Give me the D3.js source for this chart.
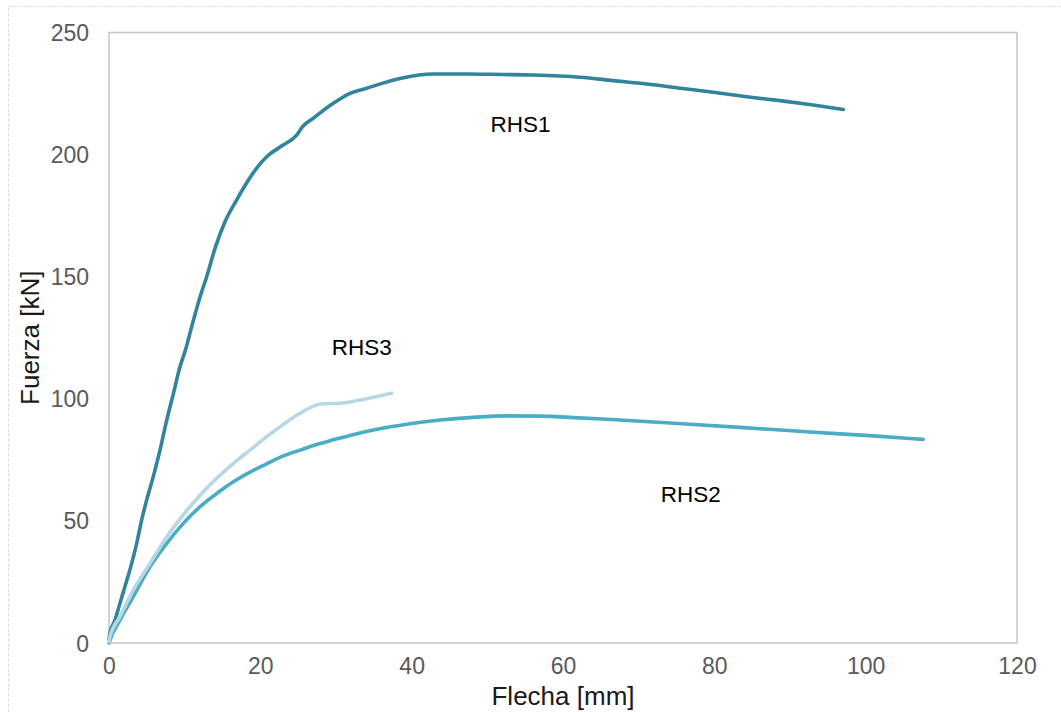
<!DOCTYPE html>
<html>
<head>
<meta charset="utf-8">
<script src="https://cdn.jsdelivr.net/npm/d3@7"></script>
<style>
  html, body { margin: 0; padding: 0; background: #ffffff; }
  svg { display: block; }
  text { font-family: "Liberation Sans", Arial, sans-serif; }
</style>
</head>
<body>
<svg id="chart" width="1061" height="712"></svg>
<script>
// Load–deflection curves [deflection mm, force kN]
const rhs1 = [
  [0, 1.5], [0.13, 4], [0.79, 9.4], [1.45, 16.3], [2.11, 23.1], [3.0, 32.6],
  [3.66, 40.8], [4.32, 50.4], [4.98, 58.6], [5.85, 68.1], [6.74, 79.0],
  [7.63, 91.3], [8.5, 102], [9.38, 113.1], [10.2, 121], [10.7, 126.9],
  [12.03, 141.7], [12.91, 150], [14.0, 161.5], [15.33, 172.5], [16.88, 181.5],
  [18.2, 188.5], [19.52, 194.5], [20.84, 199.1], [22.8, 203.5], [24.8, 208],
  [25.6, 211.5], [27.0, 214.9], [29.64, 221.0], [31.85, 225.1], [34.06, 227.2],
  [38.46, 231.2], [42.86, 233.0], [47.27, 233.0], [52.0, 232.8], [56.07, 232.6],
  [62.25, 231.7], [66.65, 230.3], [71.06, 228.9], [75.46, 227.2], [79.86, 225.5],
  [84.28, 223.7], [88.67, 222.1], [93.08, 220.3], [97.04, 218.5]
];
const rhs2 = [
  [0, 0], [0.13, 1.2], [1.45, 9.4], [3.21, 19.0], [5.42, 31.2], [7.63, 40.8],
  [9.82, 49.0], [12.03, 55.8], [14.23, 61.2], [16.43, 66.0], [18.63, 70.0],
  [20.84, 73.4], [23.04, 76.6], [25.24, 79.0], [27.45, 81.3], [29.64, 83.2],
  [31.85, 85.0], [34.93, 87.2], [39.34, 89.6], [43.74, 91.3], [48.14, 92.4],
  [52.56, 93.0], [56.96, 92.9], [61.4, 92.3], [65.77, 91.6], [74.58, 90.0],
  [83.39, 88.3], [92.2, 86.5], [101.0, 84.8], [107.6, 83.4]
];
const rhs3 = [
  [0, 0.5], [0.13, 2.6], [1.45, 10.8], [3.21, 21.7], [5.42, 32.6], [7.63, 43.5],
  [9.82, 52.5], [12.03, 60.5], [14.23, 67.5], [16.43, 73.5], [18.63, 79.0],
  [20.84, 84.5], [23.04, 89.5], [25.24, 94.1], [27.2, 97.2], [27.89, 97.9],
  [30.53, 98.2], [33.17, 99.5], [35.5, 101.0], [37.36, 102.3]
];

const seriesNames = ["RHS1", "RHS2", "RHS3"];
const seriesData = [rhs1, rhs2, rhs3];
const seriesColors = ["#31849b", "#4bacc6", "#b7d7e4"];

// Curve name annotations, placed in data units [deflection, force]
const labelNames = ["RHS1", "RHS3", "RHS2"];
const labelAt = [[54.4, 212.5], [33.4, 121.2], [76.9, 61.0]];

const xTicks = [0, 20, 40, 60, 80, 100, 120];
const yTicks = [0, 50, 100, 150, 200, 250];
const xTitle = "Flecha [mm]";
const yTitle = "Fuerza [kN]";

const svg = d3.select("#chart");
const plot = { left: 109, right: 1017, top: 32.5, bottom: 643 };

const x = d3.scaleLinear().domain([0, 120]).range([plot.left, plot.right]);
const y = d3.scaleLinear().domain([0, 250]).range([plot.bottom, plot.top]);

// Outer chart frame
svg.append("rect")
  .attr("x", 8.5).attr("y", 6.5)
  .attr("width", 1100).attr("height", 800)
  .attr("fill", "none")
  .attr("stroke", "#d9d9d9")
  .attr("stroke-width", 1)
  .attr("stroke-dasharray", "3,2");

// Plot area border
svg.append("rect")
  .attr("x", plot.left).attr("y", plot.top)
  .attr("width", plot.right - plot.left)
  .attr("height", plot.bottom - plot.top)
  .attr("fill", "none")
  .attr("stroke", "#c4c4c4")
  .attr("stroke-width", 1.5);

// Axes (labels only, no tick marks)
const xAxis = d3.axisBottom(x).tickValues(xTicks).tickSize(0).tickPadding(15);
const yAxis = d3.axisLeft(y).tickValues(yTicks).tickSize(0).tickPadding(20);

const gx = svg.append("g").attr("transform", `translate(0,${plot.bottom})`).call(xAxis);
const gy = svg.append("g").attr("transform", `translate(${plot.left},0)`).call(yAxis);
[gx, gy].forEach(g => {
  g.select(".domain").remove();
  g.selectAll("text")
    .attr("fill", "#595959")
    .style("font-size", "23px")
    .style("font-family", "'Liberation Sans', Arial, sans-serif");
});
gy.selectAll("text").attr("dy", "0.35em");

// Curves
const line = d3.line()
  .x(d => x(d[0]))
  .y(d => y(d[1]))
  .curve(d3.curveMonotoneX);

svg.append("g").selectAll("path")
  .data(seriesData)
  .join("path")
  .attr("d", line)
  .attr("fill", "none")
  .attr("stroke", (d, i) => seriesColors[i])
  .attr("stroke-width", 3.6)
  .attr("stroke-linecap", "round")
  .attr("stroke-linejoin", "round")
  .attr("data-name", (d, i) => seriesNames[i]);

// Curve annotations
svg.append("g").selectAll("text")
  .data(labelNames)
  .join("text")
  .attr("x", (d, i) => x(labelAt[i][0]))
  .attr("y", (d, i) => y(labelAt[i][1]))
  .attr("dy", "0.35em")
  .attr("text-anchor", "middle")
  .attr("fill", "#000000")
  .style("font-size", "22.5px")
  .text(d => d);

// Axis titles
svg.append("text")
  .attr("x", (plot.left + plot.right) / 2)
  .attr("y", 705)
  .attr("text-anchor", "middle")
  .attr("fill", "#1a1a1a")
  .style("font-size", "26px")
  .text(xTitle);

svg.append("text")
  .attr("transform", `translate(39,${(plot.top + plot.bottom) / 2}) rotate(-90)`)
  .attr("text-anchor", "middle")
  .attr("fill", "#1a1a1a")
  .style("font-size", "26px")
  .text(yTitle);
</script>
</body>
</html>
